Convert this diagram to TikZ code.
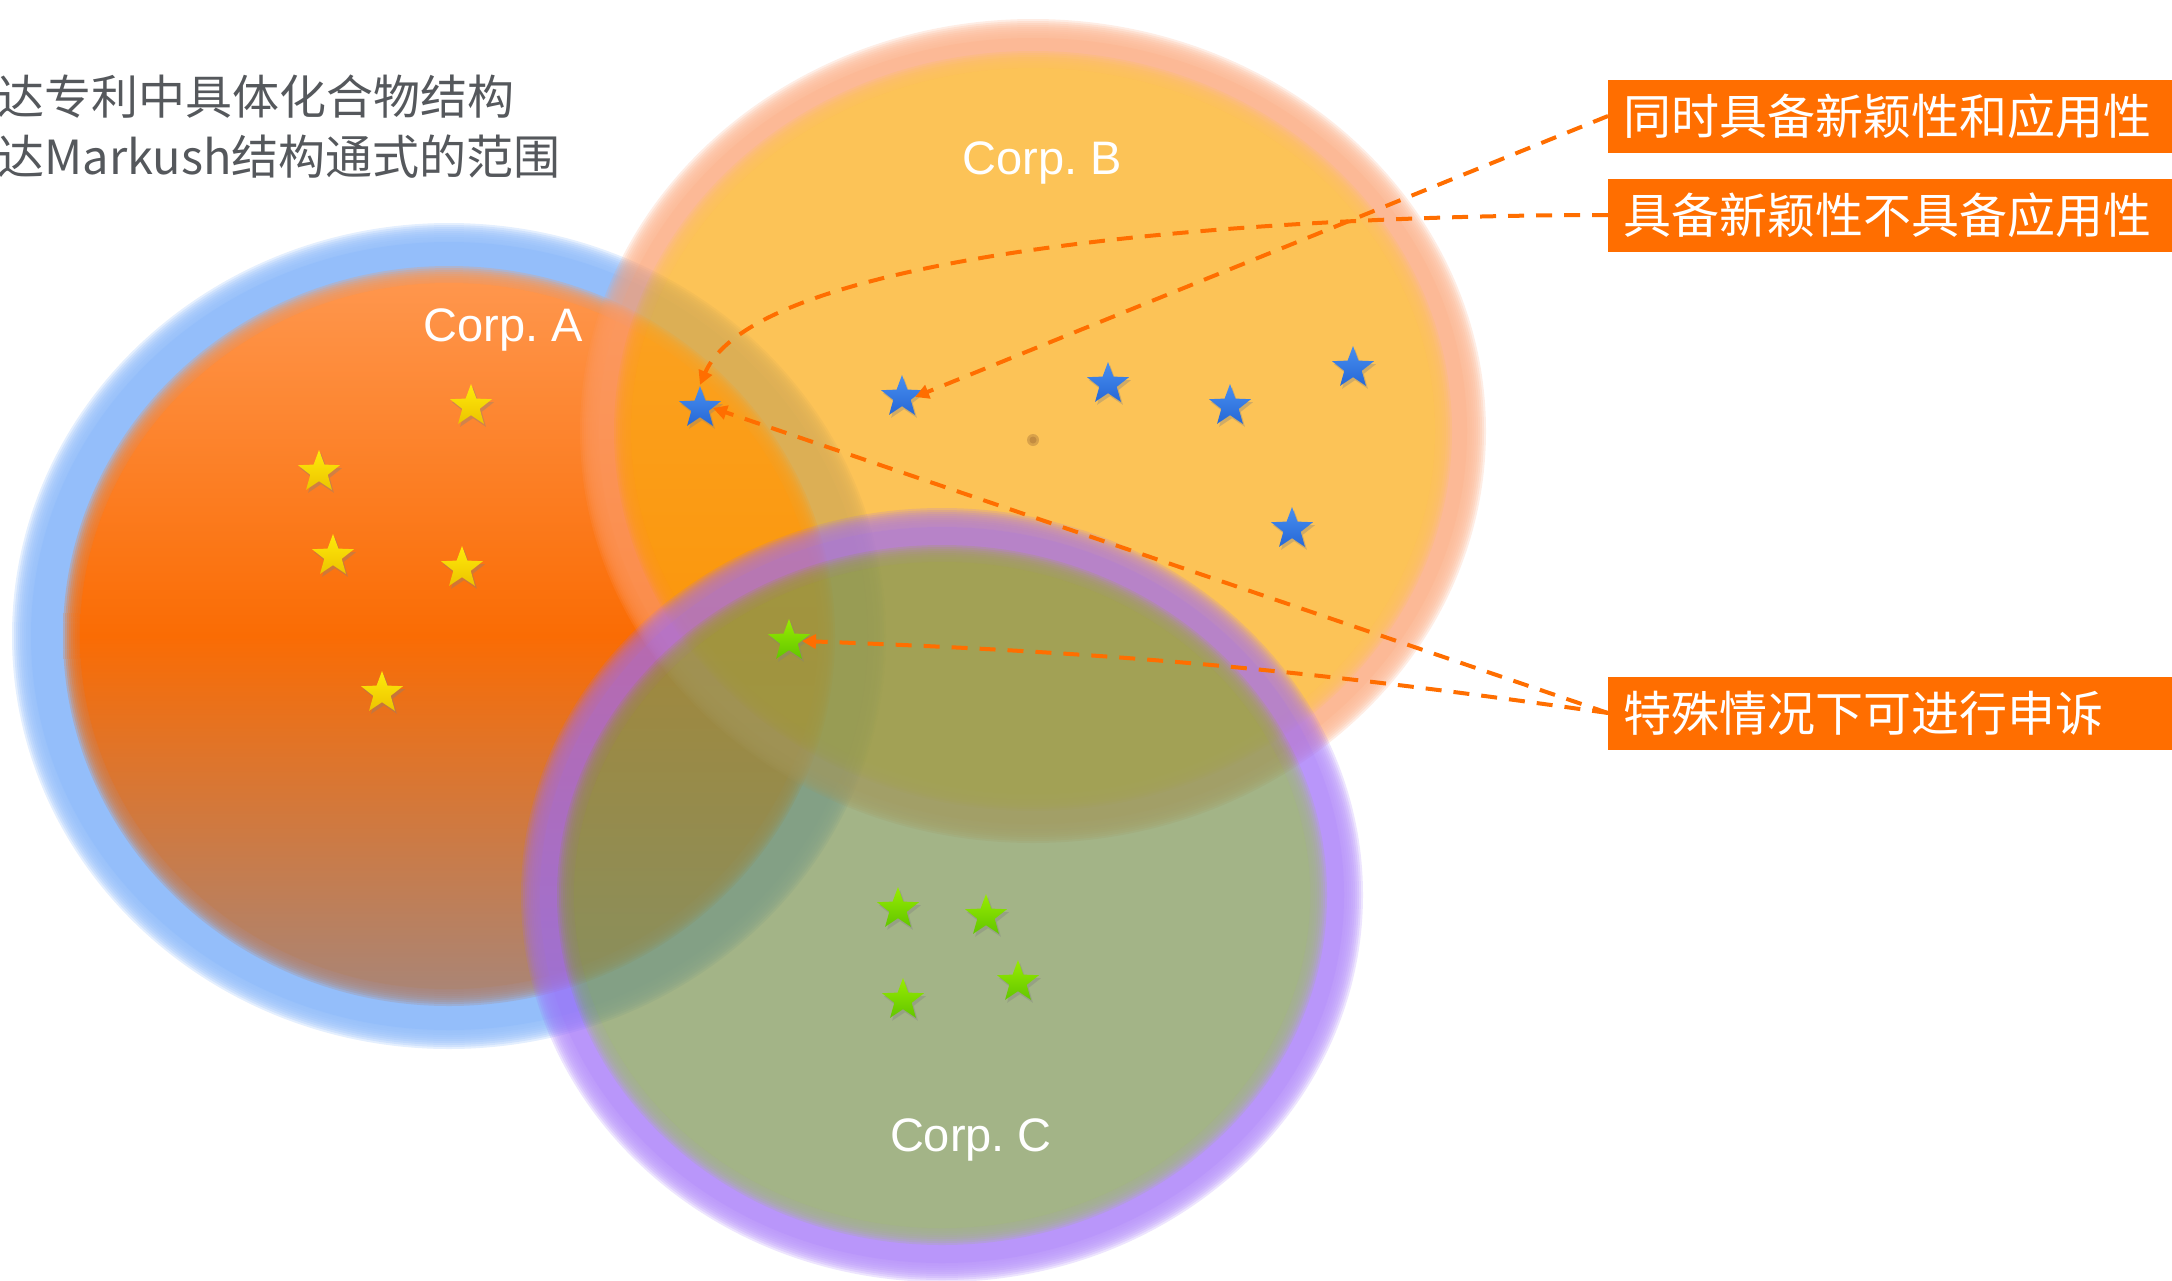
\documentclass[tikz,border=0pt]{standalone}
\usepackage{fontspec}
\setmainfont{Liberation Sans}
\newfontfamily\cjk{Noto Sans CJK SC}
\usetikzlibrary{arrows.meta,shapes.geometric,shadows}
\definecolor{ringA}{RGB}{148,190,250}
\definecolor{fillAtop}{RGB}{255,152,80}
\definecolor{fillAmid}{RGB}{250,108,4}
\definecolor{fillAbot}{RGB}{170,134,122}
\definecolor{ringB}{RGB}{251,155,105}
\definecolor{fillB}{RGB}{251,169,16}
\definecolor{ringC}{RGB}{155,105,248}
\definecolor{fillC}{RGB}{124,148,84}
\definecolor{tagorange}{RGB}{255,110,0}
\definecolor{notegray}{RGB}{85,88,92}
\frenchspacing
\begin{document}
\begin{tikzpicture}[x=0.5pt,y=-0.5pt,
    corp/.style={text=white,font=\fontsize{23.5}{28}\selectfont},
    tag/.style={fill=tagorange,text=white,anchor=west,font=\cjk\fontsize{24}{24}\selectfont,minimum height=36.5pt,text width=285pt,align=left,inner xsep=7.5pt,inner ysep=0pt},
    pin/.style={star,star points=5,star point ratio=2.4,minimum size=22pt,inner sep=0pt,drop shadow={shadow xshift=1pt,shadow yshift=-1.5pt,opacity=0.35}},
    ystar/.style={pin,top color={rgb,255:red,255;green,234;blue,10},bottom color={rgb,255:red,236;green,196;blue,0}},
    bstar/.style={pin,top color={rgb,255:red,72;green,142;blue,240},bottom color={rgb,255:red,38;green,104;blue,214}},
    gstar/.style={pin,top color={rgb,255:red,152;green,236;blue,0},bottom color={rgb,255:red,98;green,198;blue,0}},
    link/.style={tagorange,line width=2pt,dash pattern=on 8pt off 6pt,-{Triangle[length=7pt,width=7pt]}}]
  \useasboundingbox (0,0) rectangle (2172,1280);
  % Corp. A
  \fill[ringA] (449,636) ellipse [x radius=418,y radius=394];
  \foreach \k in {-9,-7,...,9} \fill[ringA,opacity=0.25] (449,636) ellipse [x radius=428+\k,y radius=404+\k];
  \shade[top color=fillAtop,bottom color=fillAbot,middle color=fillAmid] (449,636) ellipse [x radius=369,y radius=353];
  \foreach \k in {-8,-6,...,8} \shade[top color=fillAtop,bottom color=fillAbot,middle color=fillAmid,opacity=0.25] (449,636) ellipse [x radius=378+\k,y radius=362+\k];
  % Corp. B
  \begin{scope}[opacity=0.7]\begin{scope}[transparency group]
    \fill[ringB,opacity=1] (1033,431) ellipse [x radius=434,y radius=393];
    \foreach \k in {-9,-7,...,9} \fill[ringB,opacity=0.25] (1033,431) ellipse [x radius=444+\k,y radius=403+\k];
    \fill[fillB,opacity=1] (1033,431) ellipse [x radius=402,y radius=363];
    \foreach \k in {-8,-6,...,8} \fill[fillB,opacity=0.25] (1033,431) ellipse [x radius=411+\k,y radius=372+\k];
  \end{scope}\end{scope}
  \fill[brown!80!black,opacity=0.35] (1033,440) circle [radius=6];
  \fill[brown!80!black,opacity=0.35] (1033,440) circle [radius=3.5];
  % Corp. C
  \begin{scope}[opacity=0.7]\begin{scope}[transparency group]
    \fill[ringC,opacity=1] (942,895) ellipse [x radius=402,y radius=368];
    \foreach \k in {-9,-7,...,9} \fill[ringC,opacity=0.25] (942,895) ellipse [x radius=412+\k,y radius=378+\k];
    \fill[fillC,opacity=1] (942,895) ellipse [x radius=368,y radius=333];
    \foreach \k in {-8,-6,...,8} \fill[fillC,opacity=0.25] (942,895) ellipse [x radius=377+\k,y radius=342+\k];
  \end{scope}\end{scope}
  \node[corp] (corpA) at (503,330) {Corp. A};
  \node[corp] (corpB) at (1042,163) {Corp. B};
  \node[corp] (corpC) at (971,1140) {Corp. C};
  % stars
  \foreach \n/\p in {1/{471,406},2/{319,472},3/{333,556},4/{462,568},5/{382,693}} \node[ystar] (sy\n) at (\p) {};
  \foreach \n/\p in {0/{700,408},1/{902,397},2/{1108,384},3/{1230,406},4/{1353,368},5/{1292,529}} \node[bstar] (sb\n) at (\p) {};
  \foreach \n/\p in {0/{789,641},1/{898,909},2/{986,916},3/{903,1000},4/{1018,982}} \node[gstar] (sg\n) at (\p) {};
  % notes
  \node[anchor=west,align=left,inner sep=0pt,text=notegray,font=\cjk\fontsize{23.5}{30}\selectfont] (scope) at (-3,127) {达专利中具体化合物结构\\达Markush结构通式的范围};
  \node[tag] (tagBoth) at (1608,116) {同时具备新颖性和应用性};
  \node[tag] (tagNovel) at (1608,215) {具备新颖性不具备应用性};
  \node[tag] (tagAppeal) at (1608,713) {特殊情况下可进行申诉};
  \draw[link] (tagBoth.west) -- (sb1.east);
  \draw[link] (tagNovel.west) .. controls +(-357,0) and +(57,-133) .. (sb0.north);
  \draw[link] (tagAppeal.west) -- (sb0.east);
  \draw[link] (tagAppeal.west) to[bend right=3] (sg0.east);
\end{tikzpicture}
\end{document}
